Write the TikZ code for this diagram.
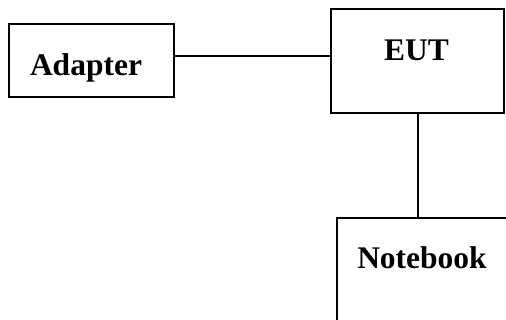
\documentclass[tikz,border=0pt]{standalone}
\usepackage{fontspec}
\setmainfont{Liberation Serif}
\begin{document}
\begin{tikzpicture}[x=1pt,y=-1pt,
  box/.style={draw=black, line width=1.9pt, rectangle, inner sep=0pt},
  lbl/.style={inner sep=0pt, anchor=base, font=\fontsize{31.5}{36}\selectfont\bfseries},
  wire/.style={draw=black, line width=1.9pt}]
\useasboundingbox (0,0) rectangle (506,320);
\clip (0,0) rectangle (506,320);
\node[box, anchor=north west, minimum width=165pt, minimum height=73pt] (ad) at (8,23) {};
\node[lbl] (adt) at (86,75.5) {Adapter};
\node[box, anchor=north west, minimum width=173pt, minimum height=104pt] (eut) at (330,8) {};
\node[lbl] (eutt) at (416.5,60.7) {EUT};
\node[box, anchor=north west, minimum width=200pt, minimum height=140pt] (nb) at (336,217) {};
\node[lbl] (nbt) at (422,268.5) {Notebook};
\draw[wire] (ad.east |- 0,56) -- (eut.west |- 0,56);
\draw[wire] (eut.south -| 418,0) -- (nb.north -| 418,0);
\end{tikzpicture}
\end{document}
